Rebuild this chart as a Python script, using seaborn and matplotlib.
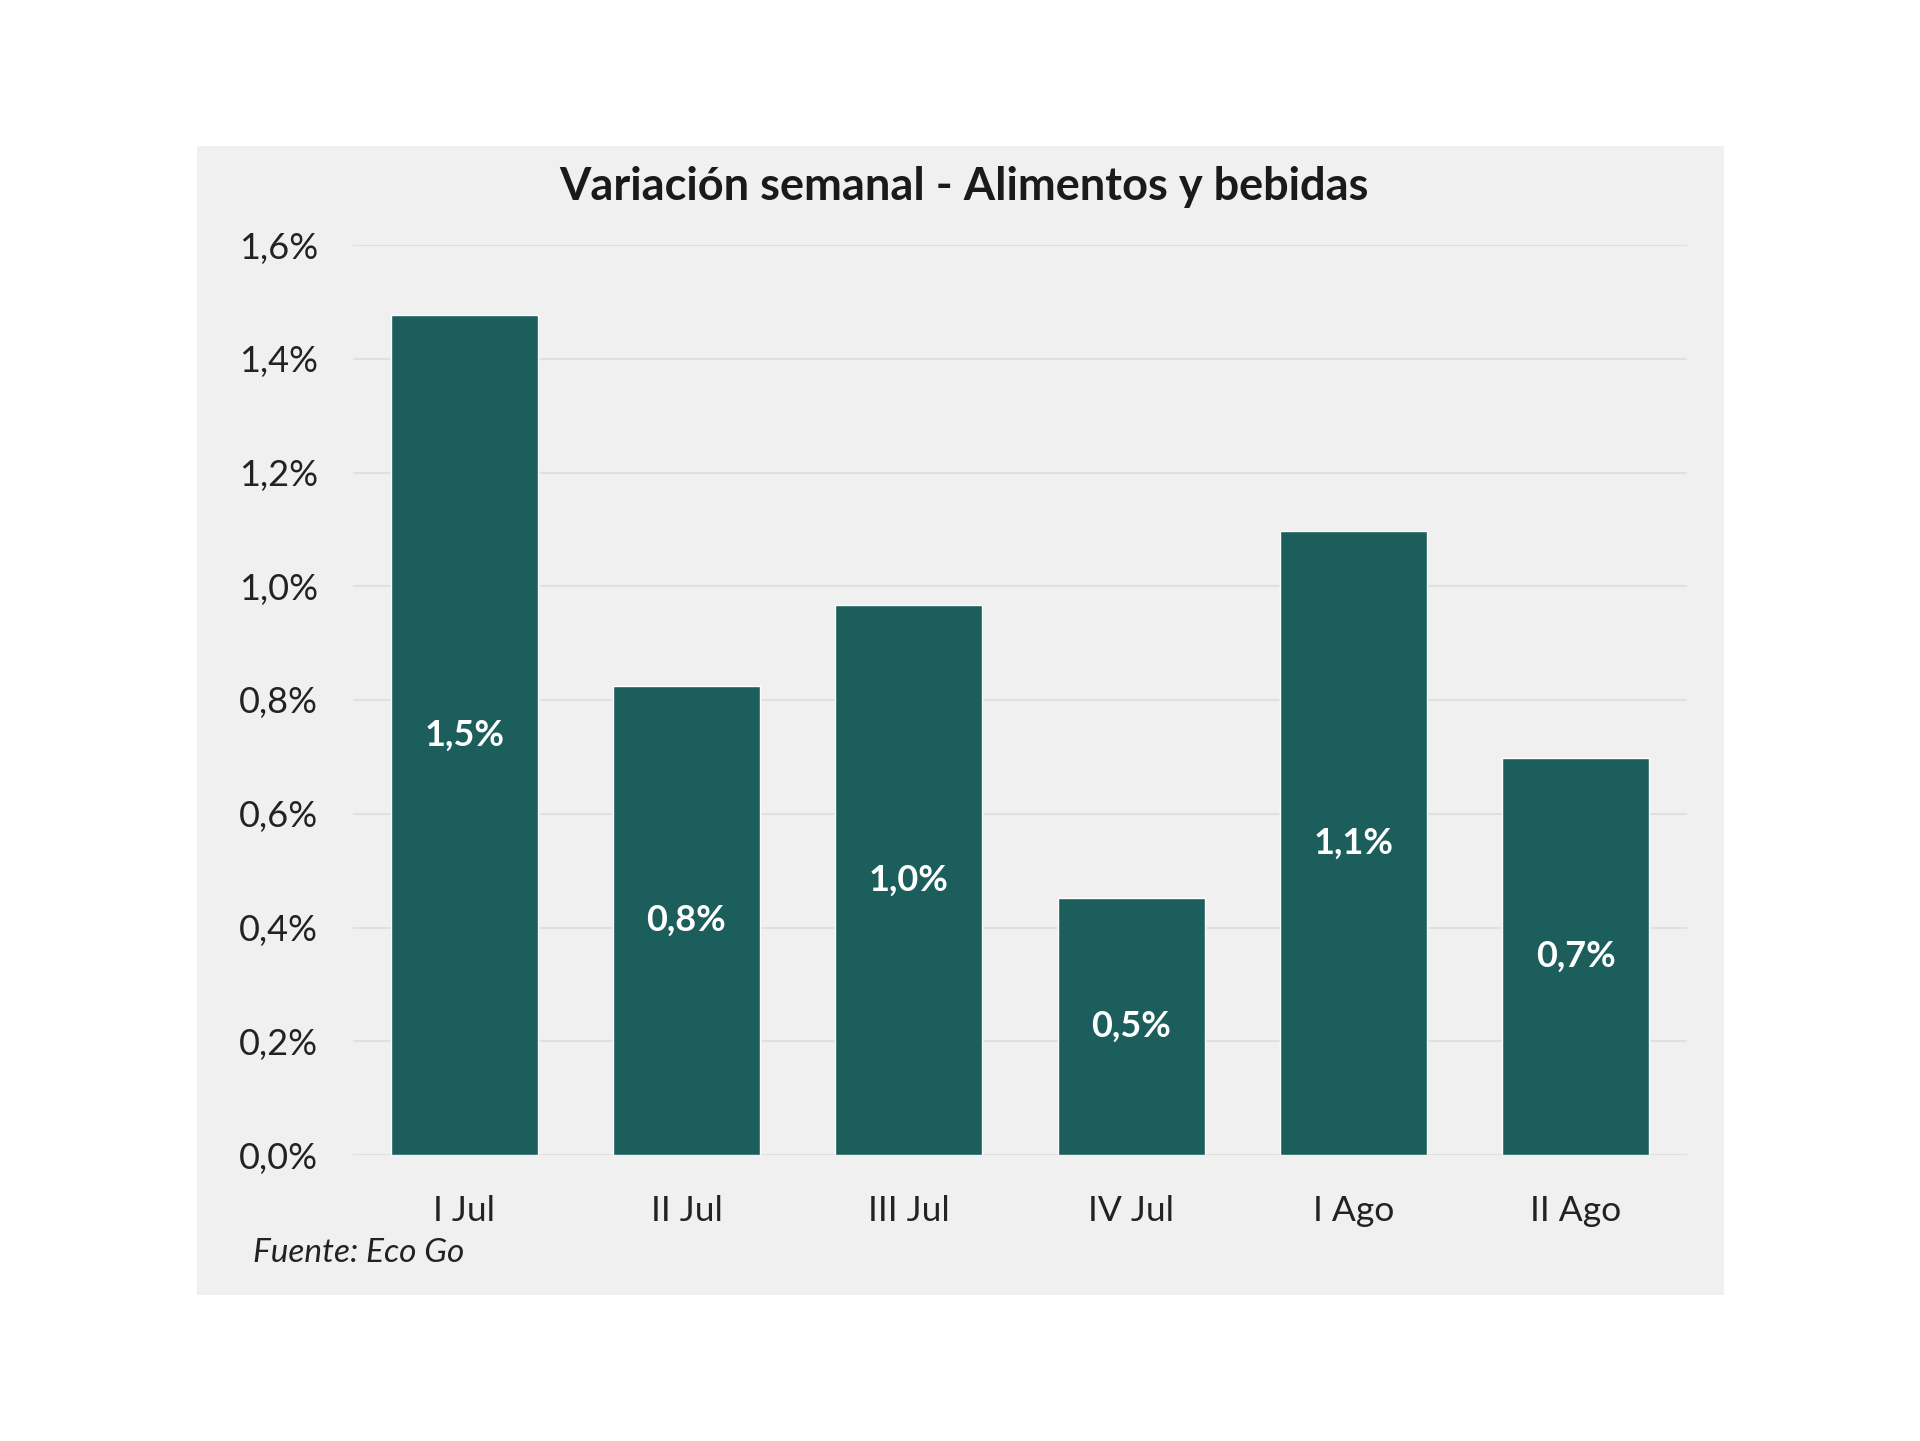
import matplotlib
matplotlib.use("Agg")
import matplotlib.pyplot as plt
import seaborn as sns
from matplotlib.patches import Rectangle

semanas = ["I Jul", "II Jul", "III Jul", "IV Jul", "I Ago", "II Ago"]
variacion = [1.477, 0.825, 0.967, 0.452, 1.098, 0.698]
etiquetas = ["1,5%", "0,8%", "1,0%", "0,5%", "1,1%", "0,7%"]
yticks = [0.0, 0.2, 0.4, 0.6, 0.8, 1.0, 1.2, 1.4, 1.6]

sns.set_style("white")
plt.rcParams["font.family"] = ["Lato", "DejaVu Sans"]

verde = "#1b5e5c"
fondo = "#f0f0f0"

fig = plt.figure(figsize=(19.2, 14.41), dpi=100)
fig.patch.set_facecolor("white")
panel = Rectangle((197 / 1920, 1 - 1295 / 1441), (1724 - 197) / 1920, (1295 - 146) / 1441,
                  transform=fig.transFigure, facecolor=fondo, edgecolor="none", zorder=-10)
fig.add_artist(panel)

ax = fig.add_axes([353 / 1920, 1 - 1155 / 1441, (1687 - 353) / 1920, (1155 - 245) / 1441])
ax.set_facecolor(fondo)
sns.barplot(x=semanas, y=variacion, color=verde, width=0.66, saturation=1, ax=ax, zorder=3)

ax.bar_label(ax.containers[0], labels=etiquetas, label_type="center", color="white",
             fontsize=26, fontweight="bold")

ax.set_ylim(0, 1.6)
ax.set_xlim(-0.5, 5.5)
ax.set_yticks(yticks)
ax.set_yticklabels([f"{v:.1f}%".replace(".", ",") for v in yticks])
ax.yaxis.grid(True, color="#e0e0e0", linewidth=1.5, zorder=0)
ax.set_axisbelow(True)
sns.despine(ax=ax, top=True, right=True, left=True, bottom=True)
ax.tick_params(axis="y", length=0, pad=25, labelsize=26, labelcolor="#222222")
ax.tick_params(axis="x", length=0, pad=29, labelsize=25.5, labelcolor="#222222")
ax.set_xlabel("")
ax.set_ylabel("")

fig.text(964 / 1920, 1 - 187 / 1441, "Variación semanal - Alimentos y bebidas", ha="center", va="center",
         fontsize=32.5, fontweight="bold", color="#1a1a1a")
fig.text(253 / 1920, 1 - 1253 / 1441, "Fuente: Eco Go", ha="left", va="center",
         fontsize=24, fontstyle="italic", color="#222222")

fig.savefig("out.png", dpi=100, facecolor="white")
